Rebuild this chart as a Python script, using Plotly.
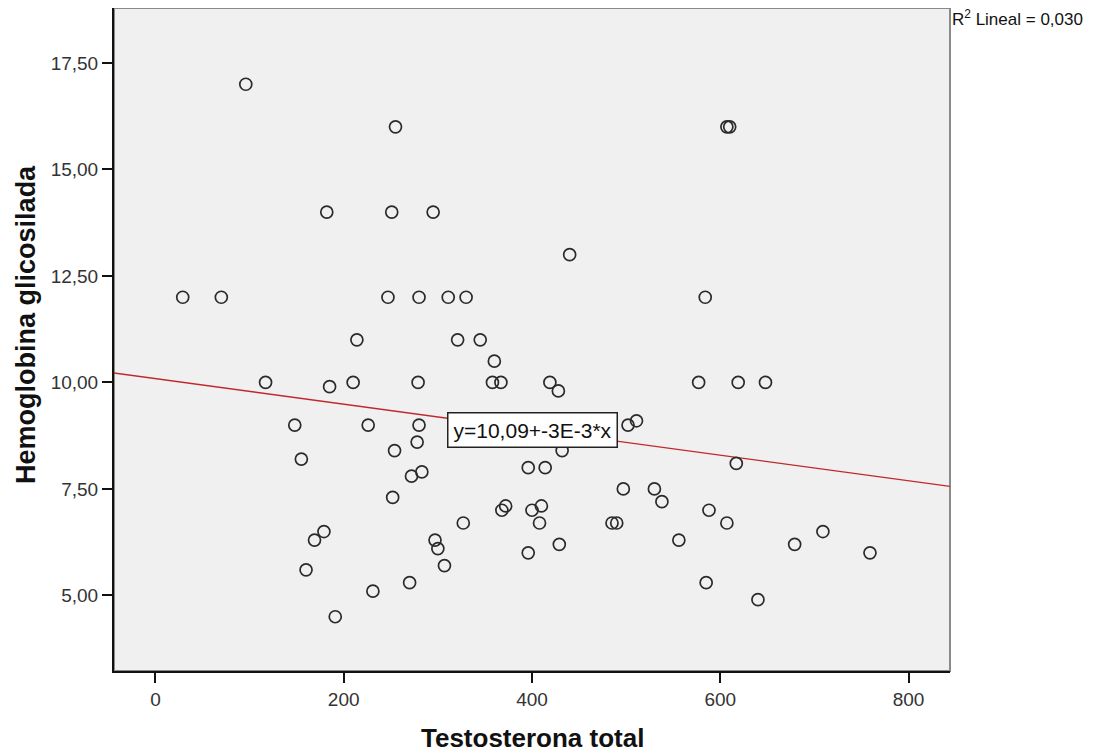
import plotly.graph_objects as go

# Data
testosterona = [96, 255, 607, 610, 182, 251, 295, 440, 29, 70, 247, 280, 311, 330, 584,
                214, 321, 345, 360, 117, 210, 279, 358, 367, 419, 577, 619, 648, 185, 428,
                148, 226, 280, 502, 511, 278, 254, 432, 155, 283, 272, 396, 414, 617, 252,
                497, 530, 538, 368, 372, 400, 410, 408, 588, 327, 485, 490, 607, 179, 709,
                169, 297, 300, 556, 429, 679, 396, 759, 160, 307, 270, 585, 231, 640, 191]
hemoglobina = [17.0, 16.0, 16.0, 16.0, 14.0, 14.0, 14.0, 13.0, 12.0, 12.0, 12.0, 12.0, 12.0, 12.0, 12.0,
               11.0, 11.0, 11.0, 10.5, 10.0, 10.0, 10.0, 10.0, 10.0, 10.0, 10.0, 10.0, 10.0, 9.9, 9.8,
               9.0, 9.0, 9.0, 9.0, 9.1, 8.6, 8.4, 8.4, 8.2, 7.9, 7.8, 8.0, 8.0, 8.1, 7.3,
               7.5, 7.5, 7.2, 7.0, 7.1, 7.0, 7.1, 6.7, 7.0, 6.7, 6.7, 6.7, 6.7, 6.5, 6.5,
               6.3, 6.3, 6.1, 6.3, 6.2, 6.2, 6.0, 6.0, 5.6, 5.7, 5.3, 5.3, 5.1, 4.9, 4.5]

intercept = 10.09
slope = -0.003
x_range = [-44, 844]
y_range = [3.226, 18.79]
x_ticks = [0, 200, 400, 600, 800]
y_ticks = [5.0, 7.5, 10.0, 12.5, 15.0, 17.5]

font_family = "Liberation Sans, Arial, sans-serif"

fig = go.Figure()

# Fit line
fit_y = [intercept + slope * x for x in x_range]
fig.add_trace(go.Scatter(x=x_range, y=fit_y, mode="lines",
                         line=dict(color="#C0282D", width=1.3),
                         hoverinfo="skip", showlegend=False))

# Points
fig.add_trace(go.Scatter(x=testosterona, y=hemoglobina, mode="markers",
                         marker=dict(symbol="circle-open", size=12,
                                     color="#2a2a2a", line=dict(width=1.7)),
                         showlegend=False))

# Grey frame around plot
fig.add_shape(type="rect", xref="paper", yref="paper", x0=0, y0=0, x1=1, y1=1,
              line=dict(color="#8a8a8a", width=2), layer="below")

# Equation label
fig.add_annotation(x=400, y=8.876, xref="x", yref="y",
                   text="y=10,09+-3E-3*x", showarrow=False,
                   font=dict(family=font_family, size=21, color="#111"),
                   bgcolor="white", bordercolor="#222", borderwidth=1.5, borderpad=5)

# R^2 label
fig.add_annotation(x=1.0, y=1.0, xref="paper", yref="paper",
                   xanchor="left", yanchor="top", yshift=3,
                   text="R<sup>2</sup> Lineal = 0,030", showarrow=False,
                   font=dict(family=font_family, size=17, color="#111"))

# Axis titles
fig.add_annotation(x=0.5, y=0, xref="paper", yref="paper",
                   xanchor="center", yanchor="middle", yshift=-67,
                   text="<b>Testosterona total</b>", showarrow=False,
                   font=dict(family=font_family, size=26, color="#111"))
fig.add_annotation(x=0, y=0.522, xref="paper", yref="paper",
                   xanchor="center", yanchor="middle", xshift=-88, textangle=-90,
                   text="<b>Hemoglobina glicosilada</b>", showarrow=False,
                   font=dict(family=font_family, size=27, color="#111"))

fig.update_layout(
    width=1099, height=746,
    margin=dict(l=106, r=157, t=0, b=83),
    paper_bgcolor="white",
    plot_bgcolor="#F0F0F0",
    separators=", ",
    font=dict(family=font_family, color="#222"),
    xaxis=dict(range=x_range, tickvals=x_ticks, showgrid=False, zeroline=False,
               showline=True, linecolor="#111", linewidth=2,
               ticks="outside", ticklen=10, tickwidth=2, tickcolor="#111",
               tickfont=dict(size=19, color="#333")),
    yaxis=dict(range=y_range, tickvals=y_ticks, tickformat=".2f",
               showgrid=False, zeroline=False,
               showline=True, linecolor="#111", linewidth=2,
               ticks="outside", ticklen=10, tickwidth=2, tickcolor="#111",
               tickfont=dict(size=19, color="#333")),
)

fig.write_html("out.html")
